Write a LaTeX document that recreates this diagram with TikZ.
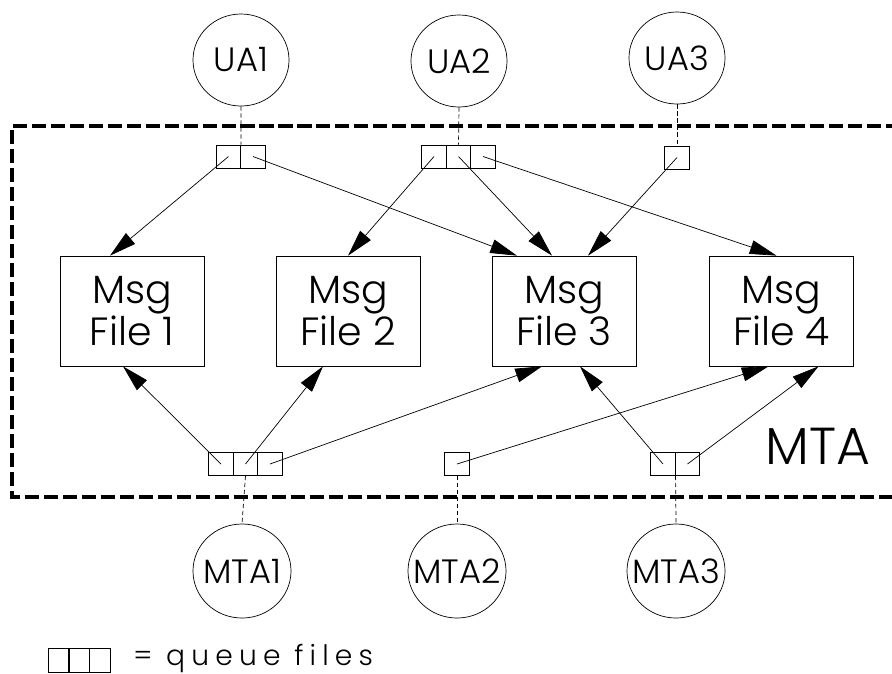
\documentclass[tikz,border=0pt]{standalone}
\usepackage{fontspec}
\setmainfont{Poppins}[UprightFont={* Light}]
\newfontfamily\widefont{Poppins}[UprightFont={* Light},LetterSpace=22]
\usetikzlibrary{shapes.geometric,arrows.meta,calc}
\newcommand{\msgfile}[1]{Msg\\File #1}
\newcommand{\agname}[1]{\makebox[0pt]{#1}}

\begin{document}
\begin{tikzpicture}[x=0.025cm,y=-0.025cm]

%
% Styles
%
\tikzstyle{agent} = [ellipse,draw,line width=0.5pt,minimum width=2.4cm,minimum height=2.3cm,inner sep=0pt,font=\fontsize{24}{24}\selectfont]
\tikzstyle{msgbox} = [rectangle,draw,line width=0.5pt,minimum width=3.6cm,minimum height=2.75cm,align=center,font=\fontsize{28}{27}\selectfont]
\tikzstyle{cell} = [rectangle,draw,line width=0.5pt,minimum width=0.61cm,minimum height=0.575cm,inner sep=0pt]
\tikzstyle{feed} = [line width=0.5pt,-{Triangle[length=19pt,width=10pt]}]
\tikzstyle{link} = [line width=0.5pt,dash pattern=on 3pt off 2pt]
\tikzstyle{frame} = [line width=2.2pt,dash pattern=on 10pt off 3.5pt]

\useasboundingbox (0,0) rectangle (892,673);

% user agents
\node[agent] (ua1) at (241,60) {\agname{UA1}};
\node[agent] (ua2) at (459,61) {\agname{UA2}};
\node[agent] (ua3) at (677,58) {\agname{UA3}};

% message files
\node[msgbox] (f1) at (132,311)   {\msgfile{1}};
\node[msgbox] (f2) at (348,311)   {\msgfile{2}};
\node[msgbox] (f3) at (564,311)   {\msgfile{3}};
\node[msgbox] (f4) at (781.5,311) {\msgfile{4}};

% queues, top
\node[cell] (q1a) at (228.5,156.5) {};
\node[cell] (q1b) at (253,156.5)   {};
\node[cell] (q2a) at (434,156.5)   {};
\node[cell] (q2b) at (458.5,156.5) {};
\node[cell] (q2c) at (483,156.5)   {};
\node[cell] (q3)  at (677,157.5)   {};

% queues, bottom
\node[cell] (m1a) at (221,464)   {};
\node[cell] (m1b) at (245.5,464) {};
\node[cell] (m1c) at (270,464)   {};
\node[cell] (m2)  at (457,464)   {};
\node[cell] (m3a) at (663,464)   {};
\node[cell] (m3b) at (687.5,464) {};

% transfer agents
\node[agent,minimum width=2.45cm,minimum height=2.35cm] (mta1) at (242,571) {\agname{MTA1}};
\node[agent,minimum width=2.45cm,minimum height=2.35cm] (mta2) at (457,571) {\agname{MTA2}};
\node[agent,minimum width=2.45cm,minimum height=2.35cm] (mta3) at (676,571) {\agname{MTA3}};

% MTA boundary
\draw[frame] (900,126) -- (12,126) -- (12,497) -- (900,497);
\node[font=\fontsize{37}{37}\selectfont] (mta) at (818,446) {MTA};

\draw[link] (ua1.south) -- (q1a.north east);
\draw[link] (ua2.south) -- (q2b.north);
\draw[link] (ua3.south) -- (q3.north);
\draw[link] (m1b.south) -- (mta1.north);
\draw[link] (m2.south) -- (mta2.north);
\draw[link] (m3a.south east) -- (mta3.north);

\draw[feed] (q1a.center) -- ($(f1.north)+(-22,0)$);
\draw[feed] (q1b.center) -- ($(f3.north)+(-47,0)$);
\draw[feed] (q2a.center) -- (f2.north);
\draw[feed] (q2b.center) -- ($(f3.north)+(-12,0)$);
\draw[feed] (q2c.center) -- ($(f4.north)+(-5,0)$);
\draw[feed] (q3.center)  -- ($(f3.north)+(24,0)$);

\draw[feed] (m1a.center) -- ($(f1.south)+(-9,0)$);
\draw[feed] (m1b.center) -- ($(f2.south)+(-25,0)$);
\draw[feed] (m1c.center) -- ($(f3.south)+(-22,0)$);
\draw[feed] (m2.center)  -- ($(f4.south)+(-13,0)$);
\draw[feed] (m3a.center) -- ($(f3.south)+(16,0)$);
\draw[feed] (m3b.center) -- ($(f4.south)+(37,0)$);

% legend
\node[cell,minimum width=0.52cm,minimum height=0.6cm] (lg1) at (58.5,660) {};
\node[cell,minimum width=0.52cm,minimum height=0.6cm] (lg2) at (79,660)   {};
\node[cell,minimum width=0.52cm,minimum height=0.6cm] (lg3) at (99.5,660) {};
\node[anchor=base west,inner sep=0pt,font=\widefont\fontsize{20}{20}\selectfont] (legend) at (133,665) {= queue files};

\end{tikzpicture}
\end{document}
